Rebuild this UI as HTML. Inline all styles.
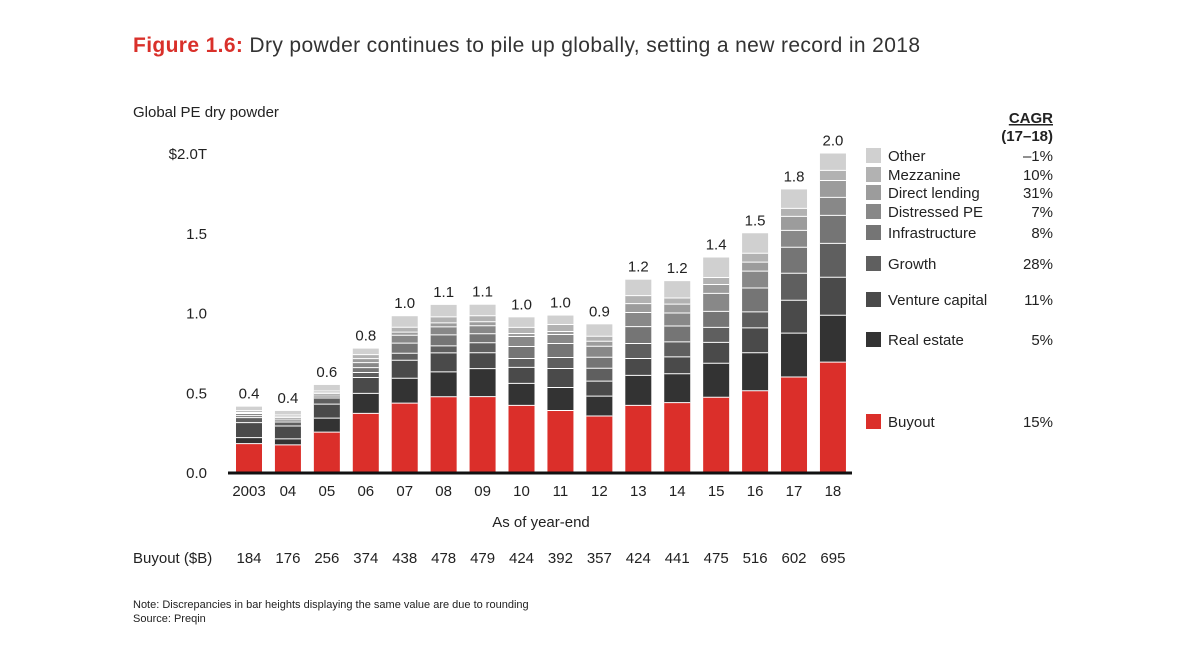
<!DOCTYPE html>
<html><head><meta charset="utf-8"><style>
body{margin:0;background:#fff;}
svg text{font-family:"Liberation Sans",sans-serif;}
</style></head><body>
<svg id="chart" width="1200" height="649" viewBox="0 0 1200 649" xmlns="http://www.w3.org/2000/svg">
<text x="133" y="52" font-size="21" fill="#333" textLength="787" lengthAdjust="spacing"><tspan fill="#d9302a" font-weight="bold">Figure 1.6:</tspan> Dry powder continues to pile up globally, setting a new record in 2018</text>
<text x="133" y="117" font-size="15" fill="#222">Global PE dry powder</text>
<g id="yaxis"></g>
<g id="bars"></g>
<line x1="228" y1="473" x2="852" y2="473" stroke="#111" stroke-width="3"/>
<g id="xlabels"></g>
<text x="541" y="527" font-size="15" fill="#222" text-anchor="middle">As of year-end</text>
<text x="133" y="563" font-size="15" fill="#222">Buyout ($B)</text>
<g id="buyoutrow"></g>
<g id="legend"></g>
<text x="1053" y="123" font-size="15" font-weight="bold" fill="#222" text-anchor="end" text-decoration="underline">CAGR</text>
<text x="1053" y="141" font-size="15" font-weight="bold" fill="#222" text-anchor="end">(17–18)</text>
<text x="133" y="608" font-size="11" fill="#222">Note: Discrepancies in bar heights displaying the same value are due to rounding</text>
<text x="133" y="622" font-size="11" fill="#222">Source: Preqin</text>
</svg>
<script>
const years=["2003","04","05","06","07","08","09","10","11","12","13","14","15","16","17","18"];
const totals=["0.4","0.4","0.6","0.8","1.0","1.1","1.1","1.0","1.0","0.9","1.2","1.2","1.4","1.5","1.8","2.0"];
const buyout=[184,176,256,374,438,478,479,424,392,357,424,441,475,516,602,695];
const realEstate=[38,38,88,125,156,156,175,138,144,125,188,181,213,238,275,294];
const ventureCapital=[94,81,88,100,113,119,100,100,119,94,106,106,131,156,206,238];
const growth=[31,25,38,31,44,44,63,56,69,81,94,94,94,100,169,213];
const infrastructure=[13,13,13,31,63,69,56,75,88,69,106,100,100,150,163,175];
const distressed=[13,13,13,31,50,50,50,63,56,69,88,81,113,106,106,113];
const directLending=[6,6,6,25,19,25,25,19,19,31,56,56,56,56,88,106];
const mezzanine=[12,12,12,25,31,38,38,38,44,31,50,38,44,56,50,63];
const other=[25,25,38,38,69,75,69,63,56,75,100,106,125,125,119,106];
const yTicks=[0,0.5,1.0,1.5,2.0];
const yTickLabels=["0.0","0.5","1.0","1.5","$2.0T"];
const seriesNames=["Buyout","Real estate","Venture capital","Growth","Infrastructure","Distressed PE","Direct lending","Mezzanine","Other"];
const cagr=["15%","5%","11%","28%","8%","7%","31%","10%","–1%"];
const series=[buyout,realEstate,ventureCapital,growth,infrastructure,distressed,directLending,mezzanine,other];
const colors=["#db2f2a","#333333","#4a4a4a","#5f5f5f","#757575","#888888","#9c9c9c","#b2b2b2","#d0d0d0"];
const legendY=[422,340,300,264,233,212,193,175,156];
const NS="http://www.w3.org/2000/svg";
const y0=473, pxPerT=159.5;
function yScale(b){return y0-b/1000*pxPerT;}
function xScale(i){return 249+i*38.93;}
function mk(tag,attrs,parent){const e=document.createElementNS(NS,tag);for(const k in attrs)e.setAttribute(k,attrs[k]);parent.appendChild(e);return e;}
const ya=document.getElementById('yaxis');
yTicks.forEach((t,i)=>{
  const e=mk('text',{x:207,y:yScale(t*1000)+5,'font-size':15,fill:'#222','text-anchor':'end'},ya);
  e.textContent=yTickLabels[i];
  
  
});
const bg=document.getElementById('bars');
years.forEach((yr,i)=>{
  let cum=0;
  const cx=xScale(i);
  series.forEach((s,k)=>{
    const v=s[i];
    const top=yScale(cum+v), bot=yScale(cum);
    const r=mk('rect',{x:cx-13,y:top,width:26,height:Math.max(0,bot-top),fill:colors[k]},bg);
    
    
    if(k>0){const l=mk('line',{x1:cx-13,x2:cx+13,y1:bot,y2:bot,stroke:'#fff','stroke-width':1},bg);
      
      }
    cum+=v;
  });
  const t=mk('text',{x:cx,y:yScale(cum)-8,'font-size':15,fill:'#222','text-anchor':'middle'},bg);
  t.textContent=totals[i];
  
  
  const xl=mk('text',{x:cx,y:496,'font-size':15,fill:'#222','text-anchor':'middle'},document.getElementById('xlabels'));
  xl.textContent=yr;
  
  
  const bl=mk('text',{x:cx,y:563,'font-size':15,fill:'#222','text-anchor':'middle'},document.getElementById('buyoutrow'));
  bl.textContent=buyout[i];
  
  
});
const lg=document.getElementById('legend');
seriesNames.forEach((n,k)=>{
  const y=legendY[k];
  const r=mk('rect',{x:866,y:y-8,width:15,height:15,fill:colors[k]},lg);
  
  
  const t=mk('text',{x:888,y:y+5,'font-size':15,fill:'#222'},lg);
  t.textContent=n;
  
  
  const c=mk('text',{x:1053,y:y+5,'font-size':15,fill:'#222','text-anchor':'end'},lg);
  c.textContent=cagr[k];
  
  
});
</script>
</body></html>
